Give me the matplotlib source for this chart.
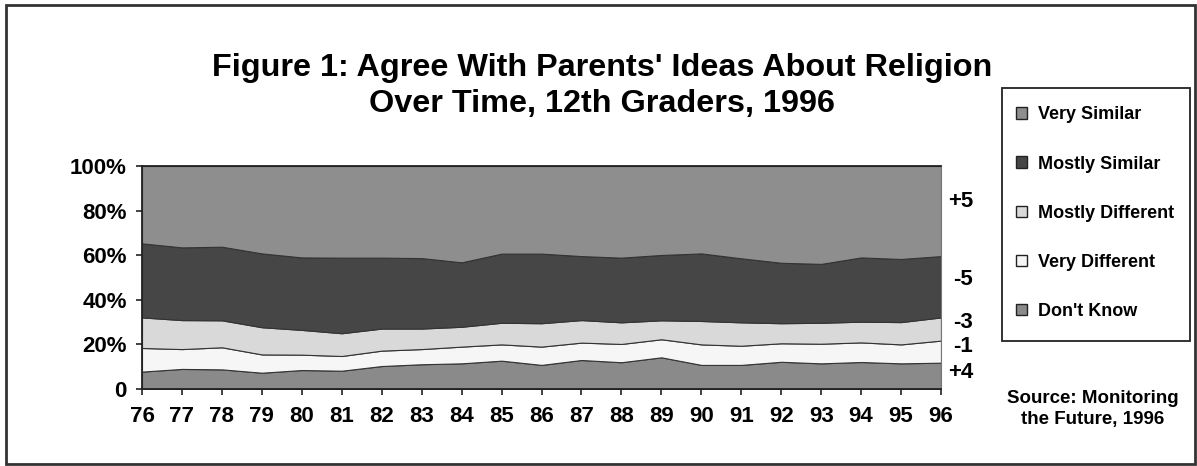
import matplotlib.pyplot as plt
from matplotlib.patches import Patch, Rectangle
from matplotlib.transforms import blended_transform_factory

plt.rcParams['font.family'] = ['Liberation Sans', 'DejaVu Sans']
plt.rcParams['font.weight'] = 'bold'

years = list(range(76, 97))
year_labels = [str(y) for y in years]

# shares in percent, bottom layer first
dont_know = [7.8, 9.0, 8.8, 7.3, 8.5, 8.2, 10.3, 11.1, 11.5, 12.7, 10.8,
             13.0, 12.0, 14.2, 10.8, 10.8, 12.2, 11.5, 12.1, 11.5, 11.8]
very_different = [10.6, 8.9, 9.9, 8.2, 6.9, 6.6, 6.9, 6.8, 7.5, 7.3, 8.2,
                  7.8, 8.2, 8.1, 9.2, 8.6, 8.3, 8.8, 8.8, 8.5, 9.9]
mostly_different = [13.7, 13.0, 12.1, 12.2, 11.1, 10.2, 9.9, 9.2, 8.9, 9.7, 10.5,
                    10.1, 9.7, 8.5, 10.5, 10.5, 9.0, 9.4, 9.3, 10.0, 10.4]
mostly_similar = [33.2, 32.6, 33.0, 33.1, 32.5, 33.9, 31.8, 31.6, 28.9, 31.0, 31.2,
                  28.7, 29.0, 29.3, 30.3, 28.7, 27.1, 26.4, 28.8, 28.3, 27.5]
very_similar = [34.7, 36.5, 36.2, 39.2, 41.0, 41.1, 41.1, 41.3, 43.2, 39.3, 39.3,
                40.4, 41.1, 39.9, 39.2, 41.4, 43.4, 43.9, 41.0, 41.7, 40.4]

series_names = ['Don\'t Know', 'Very Different', 'Mostly Different',
                'Mostly Similar', 'Very Similar']
colors = ['#8a8a8a', '#f6f6f6', '#d9d9d9', '#464646', '#8e8e8e']

change_labels = ['+4', '-1', '-3', '-5', '+5']
change_y = [7.2, 19.0, 29.6, 48.9, 84.0]

W, H = 1197, 466
fig = plt.figure(figsize=(W / 100, H / 100), dpi=100)
ax = fig.add_axes([142 / W, 1 - 389 / H, 799 / W, 223 / H])

polys = ax.stackplot(years, dont_know, very_different, mostly_different,
                     mostly_similar, very_similar, colors=colors,
                     edgecolor='#333333', linewidth=0.8)

ax.set_xlim(years[0], years[-1])
ax.set_ylim(0, 100)
ax.set_xticks(years)
ax.set_xticklabels(year_labels)
ax.set_yticks([0, 20, 40, 60, 80, 100])
ax.set_yticklabels(['0', '20%', '40%', '60%', '80%', '100%'])
ax.tick_params(axis='both', labelsize=16, length=4, width=1.2,
               color='#222222', direction='out')
ax.tick_params(axis='y', pad=7)
ax.tick_params(axis='x', pad=8)
for side in ['left', 'bottom', 'top']:
    ax.spines[side].set_color('#222222')
    ax.spines[side].set_linewidth(1.3)
ax.spines['right'].set_color('#777777')

# net change labels beside the last year
trans = blended_transform_factory(ax.transAxes, ax.transData)
for lab, yv in zip(change_labels, change_y):
    ax.text(1.040, yv, lab, transform=trans, ha='right', va='center',
            fontsize=16, fontweight='bold', clip_on=False)

fig.text(602 / W, 1 - 86 / H,
         "Figure 1: Agree With Parents' Ideas About Religion\nOver Time, 12th Graders, 1996",
         ha='center', va='center', fontsize=23.3, fontweight='bold', linespacing=1.22)

# legend entries without frame; the box is drawn separately
handles = [Patch(facecolor=colors[i], edgecolor='#222222', linewidth=1.0)
           for i in range(4, -1, -1)]
labels = [series_names[i] for i in range(4, -1, -1)]
leg = fig.legend(handles, labels, loc='upper left',
                 bbox_to_anchor=(1002 / W, 1 - 92 / H),
                 borderaxespad=0, fontsize=13,
                 handlelength=0.6, handleheight=0.6, handletextpad=0.6,
                 labelspacing=1.78, borderpad=0.8, frameon=False)
for t in leg.get_texts():
    t.set_fontweight('bold')
fig.patches.append(Rectangle((1002 / W, 1 - 341 / H), 188 / W, 253 / H,
                             transform=fig.transFigure, fill=False,
                             edgecolor='#222222', linewidth=1.3))

fig.text(1093 / W, 1 - 409 / H, 'Source: Monitoring\nthe Future, 1996',
         ha='center', va='center', fontsize=13.5, fontweight='bold',
         linespacing=1.25)

# outer frame around the whole figure
fig.patches.append(Rectangle((6 / W, 2 / H), 1189 / W, 459 / H,
                             transform=fig.transFigure, fill=False,
                             edgecolor='#333333', linewidth=2))

fig.savefig('out.png', dpi=100)
